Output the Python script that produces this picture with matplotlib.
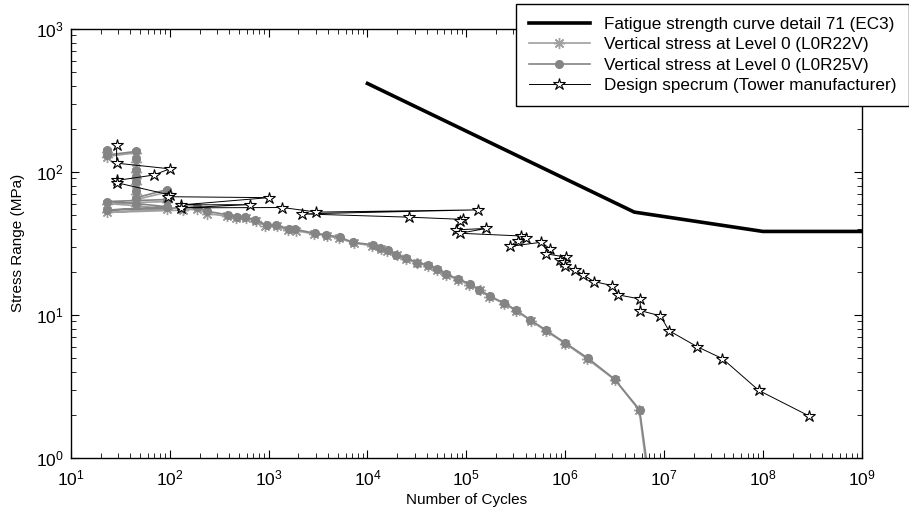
import numpy as np
import matplotlib.pyplot as plt

plt.rcParams['font.family'] = ['Liberation Sans', 'DejaVu Sans']

# Fatigue strength curve detail 71 (EC3)
ec3_n = [1e4, 5e6, 1e8, 1e9]
ec3_s = [415, 52.3, 38.3, 38.3]

# Vertical stress at Level 0 (L0R22V) - asterisks
r22_n = [23, 23, 46, 46, 46, 46, 46, 46, 46, 93, 93, 23, 46, 93, 23, 135, 190, 240, 380, 470,
         590, 740, 930, 1230, 1560, 1900, 2850, 3900, 5100, 7300, 1.12e4, 1.36e4, 1.58e4, 1.97e4,
         2.45e4, 3.2e4, 4.05e4, 5.1e4, 6.2e4, 8.3e4, 1.07e5, 1.37e5, 1.70e5, 2.42e5, 3.15e5,
         4.5e5, 6.4e5, 1.0e6, 1.68e6, 3.2e6, 5.6e6, 6.9e6]
r22_s = [138, 128, 136, 118, 100, 90, 82, 70, 64, 72, 62, 60, 58, 55, 52, 54, 55, 51, 49, 47.5,
         47.5, 45, 42, 41.5, 39, 38.8, 36.8, 35.8, 34.3, 31.8, 30.4, 28.9, 27.9, 26, 24.5, 23,
         22, 20.6, 19, 17.6, 16.2, 14.8, 13.4, 12, 10.7, 9.1, 7.7, 6.3, 4.9, 3.5, 2.15, 0.7]

# Vertical stress at Level 0 (L0R25V) - dots
r25_n = [23, 23, 46, 46, 46, 46, 46, 46, 46, 93, 93, 23, 46, 93, 23, 130, 187, 236, 390, 474,
         575, 724, 955, 1200, 1590, 1840, 2930, 3850, 5250, 7150, 1.14e4, 1.33e4, 1.61e4, 1.93e4,
         2.48e4, 3.17e4, 4.1e4, 5e4, 6.3e4, 8.2e4, 1.08e5, 1.35e5, 1.72e5, 2.39e5, 3.2e5,
         4.45e5, 6.45e5, 9.9e5, 1.7e6, 3.16e6, 5.66e6, 7e6]
r25_s = [142, 131, 139, 122, 103, 92, 85, 73, 66, 75, 64, 62, 60, 57, 54, 56, 57, 53, 50, 48.5,
         48.5, 46, 42.5, 42.5, 39.7, 39.7, 37.2, 36.3, 34.9, 32.1, 30.9, 29.3, 28.2, 26.3, 24.9,
         23.2, 22.4, 20.9, 19.3, 17.8, 16.5, 15, 13.6, 12.1, 10.8, 9.2, 7.8, 6.4, 4.98, 3.55,
         2.17, 0.75]

# Design specrum (Tower manufacturer)
ds_n = [29, 29, 100, 69, 29, 29, 100, 97, 1000, 131, 645, 131, 1380, 3050, 1.3e5, 2200,
        2.63e4, 9.3e4, 8.7e4, 7.9e4, 1.6e5, 8.6e4, 3.6e5, 4.05e5, 3.33e5, 2.75e5, 5.75e5,
        7.1e5, 6.45e5, 1.03e6, 8.8e5, 0.97e6, 0.99e6, 1.25e6, 1.51e6, 1.95e6, 3.0e6, 3.42e6,
        5.75e6, 5.75e6, 9.2e6, 1.12e7, 2.15e7, 3.9e7, 9.1e7, 2.9e8]
ds_s = [155, 115, 105, 95, 87, 84, 69, 67, 66, 58.7, 59, 56, 56.3, 52.3, 54.2, 50.8, 48.2,
        46.5, 45.2, 39.3, 40.2, 37.2, 35.6, 34.4, 33.1, 30.1, 32.2, 28.8, 26.7, 25.3, 24.3,
        23.6, 21.8, 20.7, 19.1, 17.1, 16, 13.8, 12.9, 10.7, 9.84, 7.76, 6, 4.94, 2.96, 1.97]

fig = plt.figure(figsize=(9.09, 5.15), dpi=100)
ax = fig.add_axes([0.078, 0.111, 0.870, 0.833])

ax.loglog(ec3_n, ec3_s, color='black', lw=2.6, label='Fatigue strength curve detail 71 (EC3)')
ax.loglog(r22_n, r22_s, color='#a0a0a0', lw=1.2, marker=(8, 2, 0), ms=8, mew=1.0,
          label='Vertical stress at Level 0 (L0R22V)')
ax.loglog(r25_n, r25_s, color='#848484', lw=1.2, marker='o', ms=5.5, mec='#848484',
          label='Vertical stress at Level 0 (L0R25V)')
ax.loglog(ds_n, ds_s, color='black', lw=0.7, marker='*', ms=9, mfc='white', mec='black',
          mew=0.8, label='Design specrum (Tower manufacturer)')

ax.set_xlim(1e1, 1e9)
ax.set_ylim(1e0, 1e3)
ax.set_xticks([10.0 ** k for k in range(1, 10)])
ax.set_yticks([1, 10, 100, 1000])
ax.tick_params(which='both', direction='in', top=True, right=True, labelsize=12.5)
ax.tick_params(axis='x', which='major', pad=8)
ax.tick_params(axis='y', which='major', pad=5)
ax.tick_params(which='major', length=6)
ax.tick_params(which='minor', length=3.5)
for sp in ax.spines.values():
    sp.set_linewidth(1.0)

ax.set_xlabel('Number of Cycles', fontsize=11, labelpad=3)
ax.set_ylabel('Stress Range (MPa)', fontsize=11, labelpad=8)

leg = ax.legend(loc='upper right', bbox_to_anchor=(1.0, 0.992),
                bbox_transform=fig.transFigure, fontsize=12.3, frameon=True,
                fancybox=False, edgecolor='black', borderaxespad=0, handlelength=3.6,
                labelspacing=0.32, borderpad=0.75, framealpha=1)
leg.get_frame().set_linewidth(1.0)

fig.savefig('out.png', dpi=100)
